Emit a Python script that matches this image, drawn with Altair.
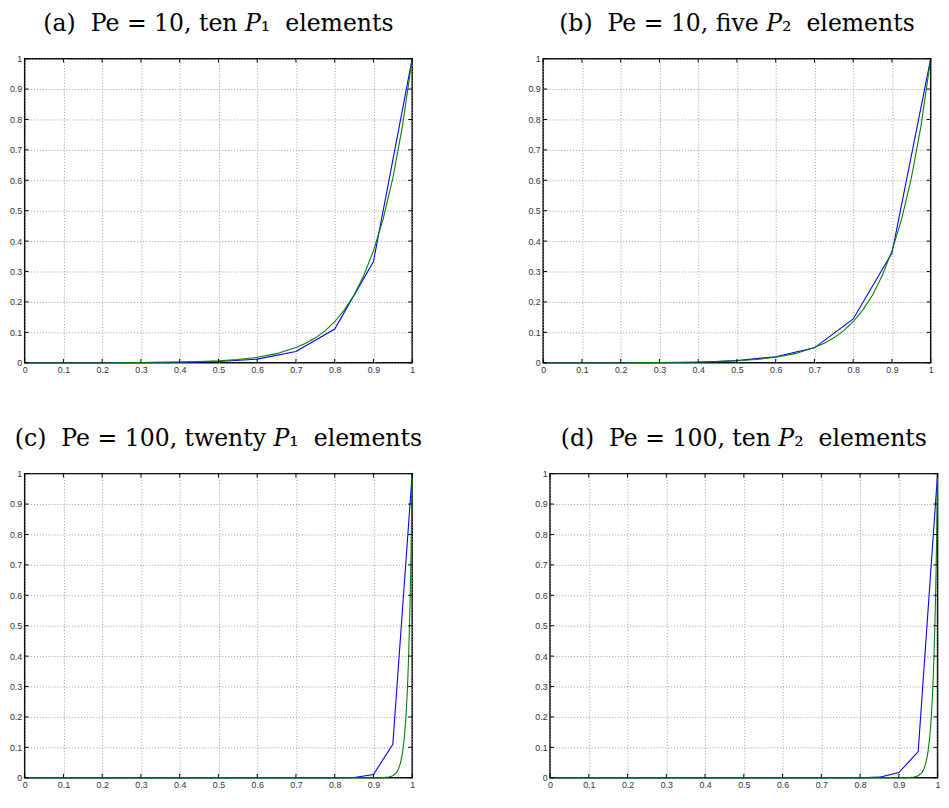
import altair as alt
import pandas as pd

# ---------------- data ----------------
ticks = [0, 0.1, 0.2, 0.3, 0.4, 0.5, 0.6, 0.7, 0.8, 0.9, 1]

# Pe = 10 exact (green) curve samples
xg_10 = [0, 0.1, 0.2, 0.3, 0.4, 0.45, 0.5, 0.55, 0.6, 0.65, 0.7, 0.725, 0.75,
         0.775, 0.8, 0.825, 0.85, 0.875, 0.9, 0.925, 0.95, 0.975, 1.0]
yg_10 = [0, 0.0001, 0.0003, 0.0009, 0.0025, 0.004, 0.0067, 0.011, 0.018, 0.030,
         0.050, 0.064, 0.082, 0.105, 0.135, 0.174, 0.223, 0.287, 0.368, 0.472,
         0.607, 0.779, 1.0]

# Pe = 100 exact (green) curve samples
xg_100 = [0, 0.9, 0.92, 0.94, 0.95, 0.96, 0.965, 0.97, 0.975, 0.98, 0.984,
          0.988, 0.991, 0.994, 0.996, 0.998, 1.0]
yg_100 = [0, 0.00005, 0.0003, 0.0025, 0.0067, 0.018, 0.030, 0.050, 0.082, 0.135,
          0.202, 0.301, 0.407, 0.549, 0.670, 0.819, 1.0]

# finite element (blue) nodal values
xb_10 = [0, 0.1, 0.2, 0.3, 0.4, 0.5, 0.6, 0.7, 0.8, 0.9, 1.0]
yb_a = [0, 0, 0.0001, 0.0005, 0.0014, 0.004, 0.012, 0.037, 0.111, 0.333, 1.0]
yb_b = [0, 0, 0, 0.0003, 0.0015, 0.007, 0.02, 0.049, 0.144, 0.361, 1.0]

xb_20 = [0, 0.05, 0.1, 0.15, 0.2, 0.25, 0.3, 0.35, 0.4, 0.45, 0.5, 0.55, 0.6,
         0.65, 0.7, 0.75, 0.8, 0.85, 0.9, 0.95, 1.0]
yb_c = [0, 0, 0, 0, 0, 0, 0, 0, 0, 0, 0, 0, 0, 0, 0, 0, 0, 0.001, 0.011, 0.11, 1.0]
yb_d = [0, 0, 0, 0, 0, 0, 0, 0, 0, 0, 0, 0, 0, 0, 0, 0, 0, 0.002, 0.017, 0.086, 1.0]

NB = "\u00a0"
titles = [
    f"(a){NB}{NB}Pe{NB}={NB}10,{NB}ten{NB}\U0001D443\u2081{NB}{NB}elements",
    f"(b){NB}{NB}Pe{NB}={NB}10,{NB}five{NB}\U0001D443\u2082{NB}{NB}elements",
    f"(c){NB}{NB}Pe{NB}={NB}100,{NB}twenty{NB}\U0001D443\u2081{NB}{NB}elements",
    f"(d){NB}{NB}Pe{NB}={NB}100,{NB}ten{NB}\U0001D443\u2082{NB}{NB}elements",
]

W, H = 395, 310
TL = 4  # inward tick length
LABEL_FONT = "Liberation Sans"
TITLE_FONT = "DejaVu Serif"


def make_axis(pad):
    return alt.Axis(values=ticks, format="~g", grid=True, gridDash=[1, 2],
                    gridColor="#9a9a9a", gridWidth=1, domain=False, ticks=False,
                    labelFont=LABEL_FONT, labelFontSize=9, labelColor="#333333",
                    labelPadding=pad, title=None, labelFlush=False,
                    labelOverlap=False)


def panel(title, xb, yb, xg, yg):
    dfb = pd.DataFrame({"x": xb, "y": yb})
    dfg = pd.DataFrame({"x": xg, "y": yg})
    dft = pd.DataFrame({"t": ticks})

    xscale = alt.Scale(domain=[0, 1], nice=False, zero=False)
    yscale = alt.Scale(domain=[0, 1], nice=False, zero=False)
    xaxis = make_axis(3)
    yaxis = make_axis(3)

    blue = alt.Chart(dfb).mark_line(color="#0000ff", strokeWidth=1.1).encode(
        x=alt.X("x:Q", scale=xscale, axis=xaxis),
        y=alt.Y("y:Q", scale=yscale, axis=yaxis),
    )
    green = alt.Chart(dfg).mark_line(color="#008000", strokeWidth=1.1).encode(
        x=alt.X("x:Q", scale=xscale, axis=xaxis),
        y=alt.Y("y:Q", scale=yscale, axis=yaxis),
    )

    tk = alt.Chart(dft)
    bottom = tk.mark_rule(color="black", strokeWidth=1).encode(
        x=alt.X("t:Q", scale=xscale, axis=xaxis), y=alt.value(H), y2=alt.value(H - TL))
    top = tk.mark_rule(color="black", strokeWidth=1).encode(
        x=alt.X("t:Q", scale=xscale, axis=xaxis), y=alt.value(0), y2=alt.value(TL))
    left = tk.mark_rule(color="black", strokeWidth=1).encode(
        y=alt.Y("t:Q", scale=yscale, axis=yaxis), x=alt.value(0), x2=alt.value(TL))
    right = tk.mark_rule(color="black", strokeWidth=1).encode(
        y=alt.Y("t:Q", scale=yscale, axis=yaxis), x=alt.value(W), x2=alt.value(W - TL))

    return alt.layer(blue, green, bottom, top, left, right).properties(
        width=W, height=H,
        title=alt.TitleParams(title, font=TITLE_FONT, fontSize=24,
                              fontWeight="normal", color="black",
                              anchor="middle", offset=19),
    )


pa = panel(titles[0], xb_10, yb_a, xg_10, yg_10)
pb = panel(titles[1], xb_10, yb_b, xg_10, yg_10)
pc = panel(titles[2], xb_20, yb_c, xg_100, yg_100)
pd_ = panel(titles[3], xb_20, yb_d, xg_100, yg_100)

chart = alt.vconcat(
    alt.hconcat(pa, pb, spacing=112.5),
    alt.hconcat(pc, pd_, spacing=112.5),
    spacing=52,
).configure_view(stroke="black", strokeWidth=1.5).properties(
    padding={"top": -4, "left": 0, "right": 0, "bottom": 0})

chart.save("out.html", embed_options={"renderer": "svg", "actions": False})
